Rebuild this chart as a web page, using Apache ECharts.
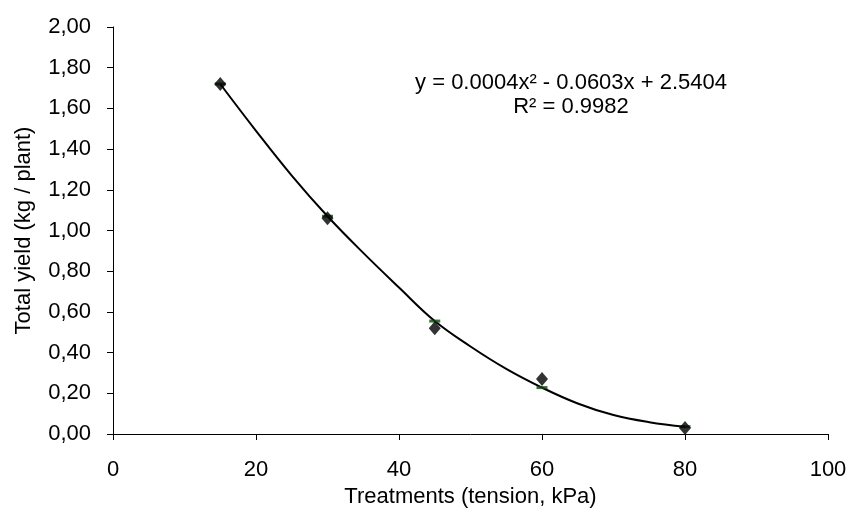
<!DOCTYPE html>
<html>
<head>
<meta charset="utf-8">
<script src="https://cdn.jsdelivr.net/npm/echarts@6/dist/echarts.min.js"></script>
<style>
  html, body { margin: 0; padding: 0; background: #fff; }
  #chart { width: 850px; height: 514px; }
</style>
</head>
<body>
<div id="chart"></div>
<script>
// observed values
const tension = [15, 30, 45, 60, 80];
const yieldKg = [1.72, 1.06, 0.52, 0.27, 0.03];

// trend line
const trendX = [15, 20, 25, 30, 35, 40, 45, 50, 55, 60, 65, 70, 75, 80];
const trendY = [1.72, 1.49, 1.27, 1.07, 0.89, 0.72, 0.555, 0.43, 0.32, 0.228, 0.15, 0.093, 0.058, 0.036];

const equation = "y = 0.0004x² - 0.0603x + 2.5404";
const rSquared = "R² = 0.9982";

const font = "Liberation Sans, Arial, sans-serif";

const myChart = echarts.init(document.getElementById("chart"));

const option = {
  backgroundColor: "#ffffff",
  animation: false,
  textStyle: { fontFamily: font },
  title: {
    text: equation + "\n" + rSquared,
    left: 566,
    top: 66,
    textAlign: "center",
    textStyle: {
      fontFamily: font,
      fontSize: 22,
      fontWeight: "normal",
      color: "#000",
      lineHeight: 24,
      align: "center",
    },
  },
  grid: {
    left: 113,
    right: 22,
    top: 27,
    bottom: 80,
  },
  xAxis: {
    type: "value",
    min: 0,
    max: 100,
    interval: 20,
    name: "Treatments (tension, kPa)",
    nameLocation: "middle",
    nameGap: 52,
    nameTextStyle: { fontFamily: font, fontSize: 22, color: "#000" },
    axisLine: { onZero: false, lineStyle: { color: "#000", width: 1 } },
    axisTick: { show: true, length: 6, inside: false, lineStyle: { color: "#000" } },
    axisLabel: { fontFamily: font, fontSize: 22, color: "#000", margin: 25 },
    splitLine: { show: false },
  },
  yAxis: {
    type: "value",
    min: 0,
    max: 2,
    interval: 0.2,
    name: "Total yield (kg / plant)",
    nameLocation: "middle",
    nameRotate: 90,
    nameGap: 78,
    nameTextStyle: { fontFamily: font, fontSize: 22, color: "#000" },
    axisLine: { show: true, onZero: false, lineStyle: { color: "#000", width: 1 } },
    axisTick: { show: true, length: 6, lineStyle: { color: "#000" } },
    axisLabel: {
      fontFamily: font,
      fontSize: 22,
      color: "#000",
      margin: 22,
      formatter: function (v) {
        return v.toFixed(2).replace(".", ",");
      },
    },
    splitLine: { show: false },
  },
  series: [
    {
      name: "trend",
      type: "line",
      data: trendX.map(function (x, i) {
        return [x, trendY[i]];
      }),
      smooth: 0.4,
      showSymbol: false,
      symbol: "none",
      lineStyle: { color: "#000", width: 2 },
      z: 2,
    },
    {
      name: "fitted",
      type: "scatter",
      data: tension.map(function (x) {
        return [x, trendY[trendX.indexOf(x)]];
      }),
      symbol: "rect",
      symbolSize: [11, 3],
      itemStyle: { color: "#0b4a0b" },
      z: 3,
    },
    {
      name: "yield",
      type: "scatter",
      data: tension.map(function (x, i) {
        return [x, yieldKg[i]];
      }),
      symbol: "diamond",
      symbolSize: [12, 14],
      itemStyle: { color: "#000" },
      z: 4,
    },
  ],
};

option && myChart.setOption(option);
</script>
</body>
</html>
